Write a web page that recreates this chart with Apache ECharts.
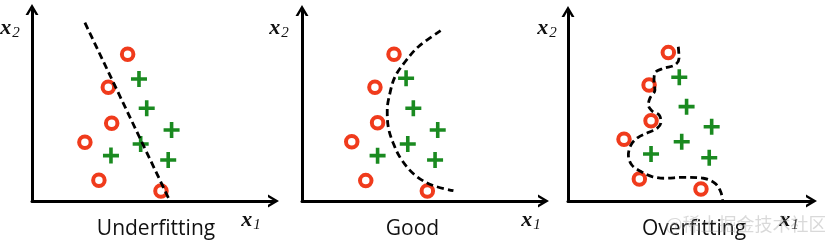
<!DOCTYPE html>
<html>
<head>
<meta charset="utf-8">
<script src="https://cdn.jsdelivr.net/npm/echarts@6/dist/echarts.min.js"></script>
<style>
html,body{margin:0;padding:0;background:#fff;}
#c{width:825px;height:242px;}
</style>
</head>
<body>
<div id="c"></div>
<script>
// ---- data (axis units 0..10 on each panel) ----
const captions = ['Underfitting', 'Good', 'Overfitting'];
const watermark = '@稀土掘金技术社区';

const underCircles = [[3.96,7.66],[3.16,5.94],[3.30,4.06],[2.19,3.07],[2.77,1.08],[5.34,0.52]];
const underPluses  = [[4.43,6.37],[4.75,4.84],[5.78,3.71],[4.50,2.98],[3.27,2.37],[5.64,2.14]];
const underBoundary = [[2.19,9.31],[5.71,0.0]];

const goodCircles = [[3.81,7.70],[3.02,5.97],[3.13,4.11],[2.06,3.11],[2.64,1.07],[5.19,0.52]];
const goodPluses  = [[4.31,6.44],[4.61,4.87],[5.62,3.73],[4.38,2.99],[3.13,2.38],[5.51,2.15]];
const goodBoundary = [[5.74,8.94],[4.82,8.10],[4.27,7.31],[3.85,6.52],[3.64,5.65],[3.53,4.78],
  [3.57,3.90],[3.78,3.03],[4.13,2.15],[4.68,1.36],[5.37,0.84],[6.27,0.54]];

const overCircles = [[4.12,7.83],[3.33,6.12],[3.41,4.24],[2.30,3.26],[2.93,1.16],[5.46,0.63]];
const overPluses  = [[4.57,6.53],[4.87,4.98],[5.90,3.92],[4.67,3.13],[3.41,2.48],[5.80,2.28]];
const overBoundary = [[4.53,8.14],[4.56,7.53],[4.39,7.18],[3.91,7.00],[3.57,6.75],[3.53,6.28],
  [3.57,5.86],[3.37,5.44],[3.30,5.07],[3.45,4.75],[3.74,4.54],[3.82,4.17],[3.66,3.83],[3.29,3.61],
  [2.87,3.35],[2.59,2.96],[2.48,2.43],[2.62,1.90],[3.03,1.53],[3.45,1.29],[3.98,1.20],[4.73,1.25],
  [5.56,1.20],[6.04,0.93],[6.27,0.49],[6.35,0.05]];

const panels = [
  {circles: underCircles, pluses: underPluses, boundary: underBoundary, smooth: false},
  {circles: goodCircles,  pluses: goodPluses,  boundary: goodBoundary,  smooth: 0.35},
  {circles: overCircles,  pluses: overPluses,  boundary: overBoundary,  smooth: 0.35}
];

// ---- layout / style ----
const grids = [
  {left: 32,  top: 9.5,  width: 241.5, bottom: 41},
  {left: 302, top: 10.5, width: 241.5, bottom: 41},
  {left: 568, top: 11.5, width: 243.5, bottom: 41}
];
const chevron = 'path://M0,11 L6.5,0 L13,11 L10.2,11 L6.5,4.6 L2.8,11 Z';
const RED = '#f03b1c', GREEN = '#1a8a20';
const plusPath = 'path://M6.2,0 H9.8 V6.2 H16 V9.8 H9.8 V16 H6.2 V9.8 H0 V6.2 H6.2 Z';

function axis(i) {
  return {
    type: 'value', gridIndex: i, min: 0, max: 10,
    axisLine: {show: true, onZero: false, lineStyle: {color: '#000', width: 3},
               symbol: ['none', chevron], symbolSize: [13, 11]},
    axisTick: {show: false}, axisLabel: {show: false}, splitLine: {show: false}
  };
}

const series = [];
panels.forEach((p, i) => {
  series.push({
    type: 'line', xAxisIndex: i, yAxisIndex: i, data: p.boundary, smooth: p.smooth,
    symbol: 'none', clip: false, z: 3,
    lineStyle: {color: '#000', width: 2.8, type: [7, 4]}
  });
  series.push({
    type: 'scatter', xAxisIndex: i, yAxisIndex: i, data: p.circles, symbol: 'circle',
    symbolSize: 11.5, clip: false, z: 2,
    itemStyle: {color: '#fff', borderColor: RED, borderWidth: 4, opacity: 1}
  });
  series.push({
    type: 'scatter', xAxisIndex: i, yAxisIndex: i, data: p.pluses, symbol: plusPath,
    symbolSize: 16, clip: false, z: 2,
    itemStyle: {color: GREEN, opacity: 1}
  });
});

function axLabel(text, sub, x, y) {
  return {
    type: 'text', x: x, y: y, z: 10,
    style: {
      text: '{a|' + text + '}{b|' + sub + '}',
      align: 'center', verticalAlign: 'middle',
      rich: {
        a: {fontFamily: 'Liberation Serif', fontStyle: 'italic', fontWeight: 'bold', fontSize: 22, fill: '#111'},
        b: {fontFamily: 'Liberation Serif', fontStyle: 'italic', fontSize: 15, fill: '#111', padding: [10, 0, 0, 1]}
      }
    }
  };
}
const capX = [156, 412.5, 694];
const x2X = [10, 279, 547];
const x1X = [251, 531, 789];
const graphic = [];
captions.forEach((c, i) => {
  graphic.push({type: 'text', x: capX[i], y: 229, z: 10,
    style: {text: c, fontFamily: 'Open Sans', fontSize: 21, fill: '#111', align: 'center', verticalAlign: 'middle'}});
  graphic.push(axLabel('x', '2', x2X[i], 28));
  graphic.push(axLabel('x', '1', x1X[i], 220));
});
graphic.push({type: 'text', x: 746, y: 224, z: 20,
  style: {text: watermark, fontFamily: 'Noto Sans CJK SC', fontSize: 18, fill: 'rgba(160,160,160,0.4)', align: 'center', verticalAlign: 'middle'}});

const chart = echarts.init(document.getElementById('c'), null, {renderer: 'canvas'});
chart.setOption({
  animation: false,
  backgroundColor: '#fff',
  grid: grids,
  xAxis: [axis(0), axis(1), axis(2)],
  yAxis: [axis(0), axis(1), axis(2)],
  series: series,
  graphic: graphic
});
</script>
</body>
</html>
